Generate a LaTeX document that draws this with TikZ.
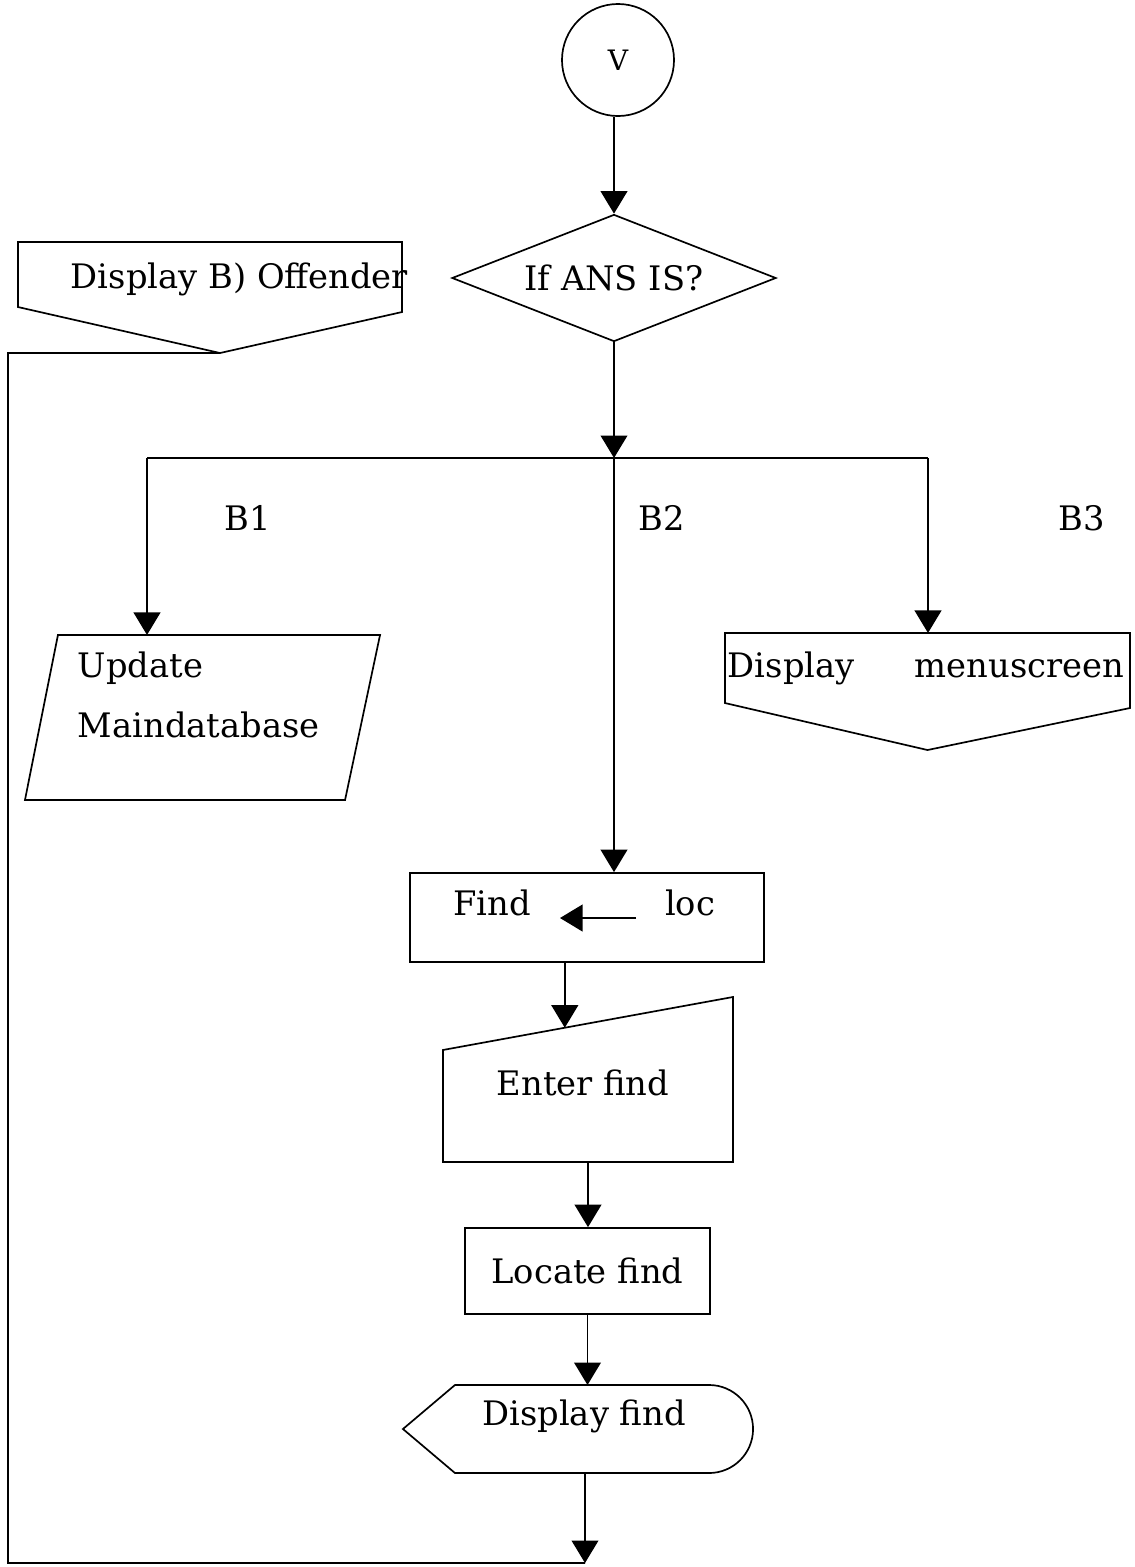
\documentclass[tikz,border=0pt]{standalone}
\usepackage{fontspec}
\setmainfont{DejaVu Serif}
\usetikzlibrary{shapes.geometric, arrows.meta}
\usetikzlibrary{positioning}
\usetikzlibrary{calc}

\begin{document}
\begin{tikzpicture}[
                x=0.025cm, y=-0.025cm,
                line width=1.2pt,
                every node/.style={font=\fontsize{24}{30}\selectfont, inner sep=0pt},
                txt/.style={anchor=base},
                shapebox/.style={draw=none, rectangle, outer sep=0pt},
                procbox/.style={draw, rectangle},
                decision/.style={draw, diamond, aspect=2.55, minimum width=8.1cm, minimum height=3.175cm},
                flow/.style={-{Triangle[length=16pt, width=19pt]}}
            ]
            \useasboundingbox (0,0) rectangle (1135,1567);

            % Define nodes
            \node[draw, circle, minimum size=2.8cm, font=\fontsize{20}{24}\selectfont] (start) at (618,60) {V};
            \node[decision] (ans) at (614,278) {If ANS IS?};

            \node[shapebox, minimum width=9.6cm, minimum height=2.775cm] (offender) at (210,297.5) {};
            \node[txt, anchor=base west] (offtxt) at (70,288) {Display B) Offender};

            \node[shapebox, minimum width=8.875cm, minimum height=4.125cm] (update) at (202.5,717.5) {};
            \node[txt, anchor=base west] (updtxt) at (77,677) {Update};
            \node[txt, anchor=base west] (dbtxt) at (77,737) {Maindatabase};

            \node[shapebox, minimum width=10.125cm, minimum height=2.925cm] (menu) at (927.5,691.5) {};
            \node[txt, anchor=base west] (menutxt1) at (727,677) {Display};
            \node[txt, anchor=base east] (menutxt2) at (1125,677) {menuscreen};

            \node[procbox, minimum width=8.85cm, minimum height=2.225cm] (findloc) at (587,917.5) {};
            \node[txt] (findtxt) at (492,915) {Find};
            \node[txt] (loctxt) at (690,915) {loc};

            \node[shapebox, minimum width=7.25cm, minimum height=4.125cm] (enter) at (588,1079.5) {};
            \node[txt] (entertxt) at (583,1095) {Enter find};

            \node[procbox, minimum width=6.125cm, minimum height=2.15cm] (locate) at (587.5,1271) {Locate find};

            \node[shapebox, minimum width=8.75cm, minimum height=2.2cm] (dfind) at (578,1429) {};
            \node[txt] (dfindtxt) at (584,1425) {Display find};

            % Branch labels
            \node[txt] (lb1) at (248,530) {B1};
            \node[txt] (lb2) at (662,530) {B2};
            \node[txt] (lb3) at (1082,530) {B3};

            % Outlines of the drawn shapes
            \coordinate (offtip) at ($(offender.south)+(10,0)$);
            \draw (offender.north west) -- (offender.north east) -- ($(offender.south east)+(0,-41)$)
                -- (offtip) -- ($(offender.south west)+(0,-46)$) -- cycle;
            \draw ($(update.north west)+(33,0)$) -- (update.north east) -- ($(update.south east)+(-35,0)$)
                -- (update.south west) -- cycle;
            \draw (menu.north west) -- (menu.north east) -- ($(menu.south east)+(0,-42)$)
                -- (menu.south) -- ($(menu.south west)+(0,-47)$) -- cycle;
            \coordinate (entertl) at ($(enter.north west)+(0,53)$);
            \draw (entertl) -- (enter.north east) -- (enter.south east) -- (enter.south west) -- cycle;
            \draw (dfind.west) -- ($(dfind.north west)+(52,0)$) -- ($(dfind.north east)+(-44,0)$)
                arc[start angle=90, end angle=-90, radius=1.1cm] -- ($(dfind.south west)+(52,0)$) -- cycle;

            % Arrows connecting boxes
            \coordinate (bus) at (ans.south |- 0,458);
            \coordinate (busL) at (147,458);
            \coordinate (busR) at (928,458);
            \draw[flow] (start.south -| ans.north) -- (ans.north);
            \draw[flow] (ans.south) -- (bus);
            \draw (busL) -- (busR);
            \draw[flow] (busL) -- (busL |- update.north);
            \draw[flow] (bus) -- (bus |- findloc.north);
            \draw[flow] (busR) -- (busR |- menu.north);

            \coordinate (locfrom) at (636,918);
            \coordinate (locto) at (560,918);
            \draw[flow] (locfrom) -- (locto);

            \coordinate (enterin) at ($(entertl)!0.42!(enter.north east)$);
            \draw[flow] (findloc.south -| enterin) -- (enterin);
            \draw[flow] (enter.south) -- (enter.south |- locate.north);
            \draw[flow] (locate.south) -- (locate.south |- dfind.north);

            % Loop back to the offender display
            \coordinate (loopend) at (585,1563);
            \coordinate (loopbl) at (8,1563);
            \coordinate (looptl) at (8,353);
            \draw[flow] (dfind.south -| loopend) -- (loopend);
            \draw (loopend) -- (loopbl) -- (looptl) -- (offtip);

        \end{tikzpicture}
\end{document}
